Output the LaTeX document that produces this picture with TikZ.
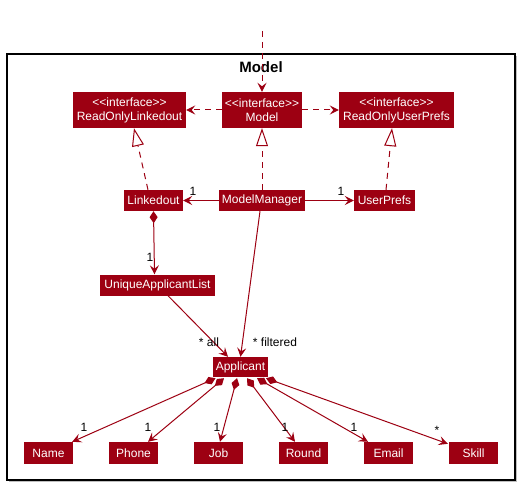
\documentclass[tikz,border=0pt]{standalone}
\usepackage{fontspec}
\setmainfont{Liberation Sans}[Ligatures=TeXOff]
\usetikzlibrary{arrows.meta}
\definecolor{umlred}{HTML}{9D0012}
\begin{document}
\begin{tikzpicture}[x=1pt,y=-1pt,
  cls/.style={fill=umlred,text=white,inner sep=0pt,font=\fontsize{12}{14}\selectfont,align=center},
  lbl/.style={inner sep=0pt,font=\fontsize{12}{14}\selectfont,text=black},
  conn/.style={draw=umlred,line width=1pt},
  dep/.style={conn,dash pattern=on 6pt off 5pt,-{Stealth[length=9pt,width=9pt,inset=3.5pt]}},
  assoc/.style={conn,-{Stealth[length=9pt,width=9pt,inset=3.5pt]}},
  real/.style={conn,dash pattern=on 6pt off 5pt,-{Triangle[open,length=18pt,width=12pt,fill=white]}},
  comp/.style={conn,{Diamond[length=12pt,width=8pt]}-{Stealth[length=9pt,width=9pt,inset=3.5pt]}},
]
\useasboundingbox (0,0) rectangle (519,486);
% package frame
\fill[black!25] (9,56) rectangle (517,482);
\draw[black,line width=1.3pt,fill=white] (7,54) rectangle (515,480);
\node[font=\fontsize{15}{17}\selectfont\bfseries] (title) at (261,67) {Model};

% classes
\node[cls,minimum width=113pt,minimum height=36pt] (rol) at (129.5,110) {<<interface>>\\ReadOnlyLinkedout};
\node[cls,minimum width=80pt,minimum height=36pt] (mi) at (262,110) {<<interface>>\\Model};
\node[cls,minimum width=115pt,minimum height=36pt] (roup) at (396.5,110) {<<interface>>\\ReadOnlyUserPrefs};
\node[cls,minimum width=59pt,minimum height=21pt] (lo) at (153.5,200.5) {Linkedout};
\node[cls,minimum width=86pt,minimum height=21pt] (mm) at (262,200.5) {ModelManager};
\node[cls,minimum width=61pt,minimum height=21pt] (up) at (384.5,200.5) {UserPrefs};
\node[cls,minimum width=115pt,minimum height=21pt] (ual) at (157.5,285) {UniqueApplicantList};
\node[cls,minimum width=55pt,minimum height=20pt] (app) at (240.5,367) {Applicant};
\node[cls,minimum width=49pt,minimum height=22pt] (name) at (48.5,453) {Name};
\node[cls,minimum width=49pt,minimum height=22pt] (phone) at (133.5,453) {Phone};
\node[cls,minimum width=49pt,minimum height=22pt] (job) at (218.5,453) {Job};
\node[cls,minimum width=49pt,minimum height=22pt] (round) at (303.5,453) {Round};
\node[cls,minimum width=49pt,minimum height=22pt] (email) at (388.5,453) {Email};
\node[cls,minimum width=49pt,minimum height=22pt] (skill) at (473.5,453) {Skill};

% connectors
\coordinate (ext) at (262,31);
\draw[dep] (ext) -- (mi.north);
\draw[dep] (mi.west) -- (rol.east);
\draw[dep] (mi.east) -- (roup.west);
\draw[real] ([xshift=-5.5pt]lo.north) -- ([xshift=4.5pt]rol.south);
\draw[real] (mm.north) -- (mi.south);
\draw[real] ([xshift=1.5pt]up.north) -- ([xshift=-4.5pt]roup.south);
\draw[assoc] (mm.west) -- (lo.east);
\draw[assoc] (mm.east) -- (up.west);
\draw[comp] (lo.south) -- ([xshift=-3pt]ual.north);
\draw[assoc] ([xshift=10.5pt]ual.south) -- ([xshift=-12.5pt]app.north);
\draw[assoc] ([xshift=-2pt]mm.south) -- (app.north);
\draw[comp] ([xshift=-25pt,yshift=-1pt]app.south) -- ([xshift=-1pt]name.north east);
\draw[comp] ([xshift=-16.5pt,yshift=-1pt]app.south) -- ([xshift=14.5pt]phone.north);
\draw[comp] ([xshift=-3.5pt,yshift=-1pt]app.south) -- ([xshift=1.5pt]job.north);
\draw[comp] ([xshift=6.5pt,yshift=-1pt]app.south) -- ([xshift=-8.5pt]round.north);
\draw[comp] ([xshift=16.5pt,yshift=-1pt]app.south) -- ([xshift=-20.5pt]email.north);
\draw[comp] ([xshift=25.5pt,yshift=-1pt]app.south) -- ([xshift=-1pt,yshift=-2pt]skill.north west);

% multiplicities
\node[lbl] (m1) at (193,191) {1};
\node[lbl] (m2) at (341,191) {1};
\node[lbl] (m3) at (150,257) {1};
\node[lbl] (m4) at (209,342) {* all};
\node[lbl] (m5) at (275,342) {* filtered};
\node[lbl] (m6) at (84,427) {1};
\node[lbl] (m7) at (148,427) {1};
\node[lbl] (m8) at (217,427) {1};
\node[lbl] (m9) at (285,427) {1};
\node[lbl] (m10) at (354,427) {1};
\node[lbl] (m11) at (437,430) {*};
\end{tikzpicture}
\end{document}
